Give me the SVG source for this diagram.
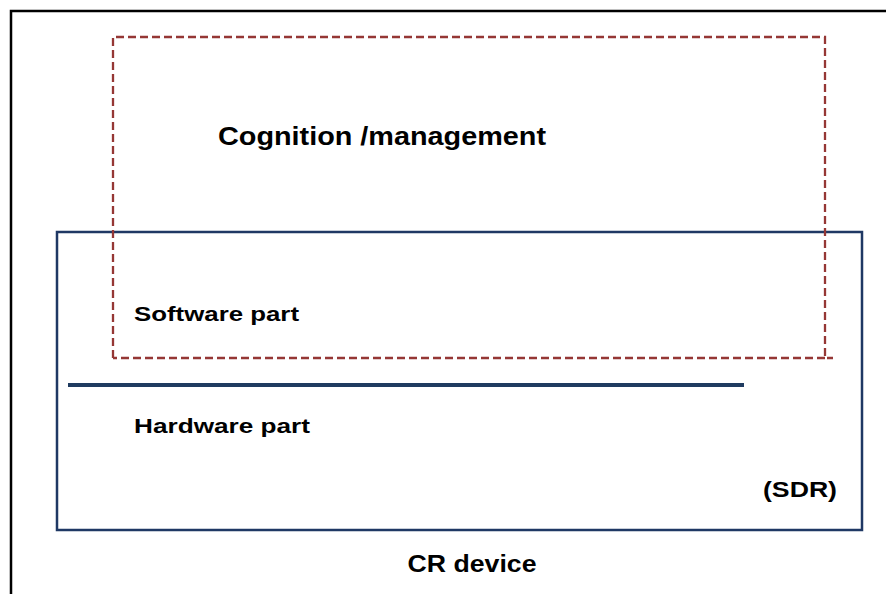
<svg xmlns="http://www.w3.org/2000/svg" width="886" height="594" viewBox="0 0 886 594">
<style>
  .t { font-family: "Liberation Sans", Arial, sans-serif; font-weight: bold; fill: #000; }
  .frame { fill: none; stroke: #000; stroke-width: 2.5; }
  .sdr { fill: none; stroke: #1f3864; stroke-width: 2.5; }
  .cog { fill: none; stroke: #953735; stroke-width: 2.3; stroke-dasharray: 8 4; }
  .divider { stroke: #1f3b60; stroke-width: 4; }
</style>
<rect width="886" height="594" fill="#fff"/>
<g id="cr-device">
  <path class="frame" d="M11,594 V11 H886"/>
  <text class="t" x="472" y="572" font-size="24" text-anchor="middle" textLength="129" lengthAdjust="spacingAndGlyphs">CR device</text>
</g>
<g id="sdr">
  <rect class="sdr" x="57" y="232" width="805" height="298"/>
  <text class="t" x="800" y="497" font-size="22" text-anchor="middle" textLength="74" lengthAdjust="spacingAndGlyphs">(SDR)</text>
</g>
<g id="software-part">
  <text class="t" x="134" y="321" font-size="20" textLength="165" lengthAdjust="spacingAndGlyphs">Software part</text>
</g>
<g id="hardware-part">
  <line class="divider" x1="68" y1="385" x2="744" y2="385"/>
  <text class="t" x="134" y="433" font-size="20" textLength="176" lengthAdjust="spacingAndGlyphs">Hardware part</text>
</g>
<g id="cognition">
  <path class="cog" d="M113,358 V37 H825 V358 H833 M825,358 H113"/>
  <text class="t" x="218" y="145" font-size="25" textLength="328" lengthAdjust="spacingAndGlyphs">Cognition /management</text>
</g>
<g id="connectors"></g>
</svg>
